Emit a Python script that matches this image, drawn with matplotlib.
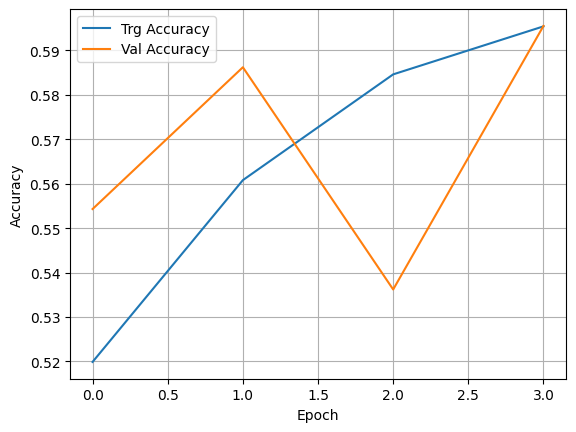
import matplotlib
matplotlib.use("Agg")
import matplotlib.pyplot as plt

epochs = [0, 1, 2, 3]
trg_acc = [0.5199, 0.5608, 0.5846, 0.5954]
val_acc = [0.5543, 0.5862, 0.5362, 0.5955]

plt.figure(figsize=(6.4, 4.8), dpi=100)
plt.plot(epochs, trg_acc, label='Trg Accuracy')
plt.plot(epochs, val_acc, label='Val Accuracy')
plt.xlabel('Epoch')
plt.ylabel('Accuracy')
plt.legend()
plt.grid(True)
plt.savefig('out.png', bbox_inches='tight')
